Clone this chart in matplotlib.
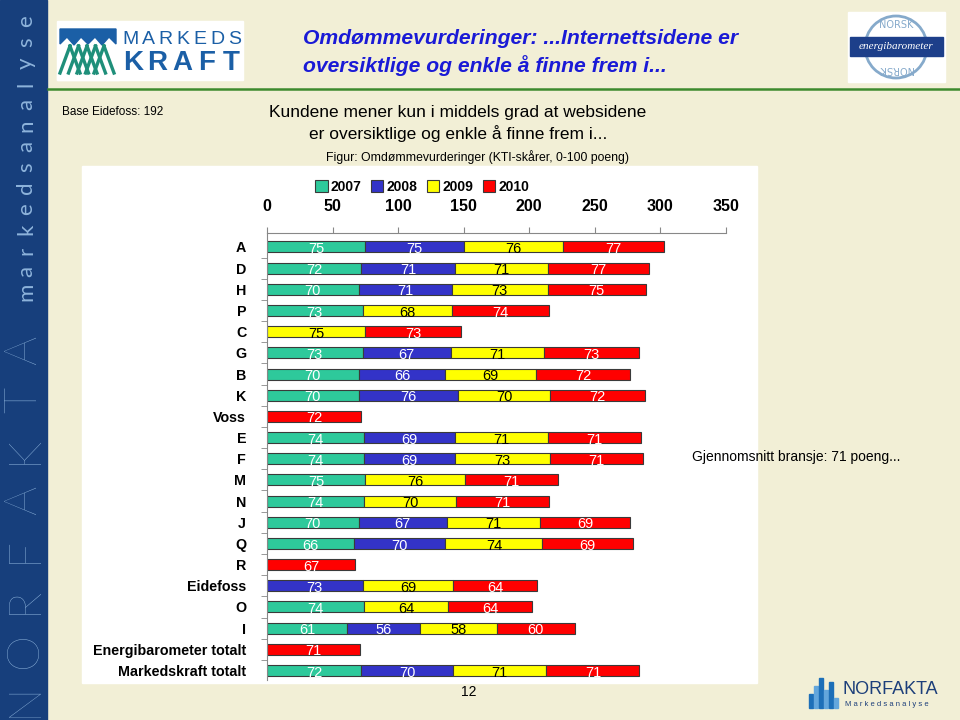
import numpy as np
import matplotlib.pyplot as plt
from matplotlib.patches import Rectangle, Polygon, Circle

nan = np.nan

# categories, top to bottom
cats = ['A', 'D', 'H', 'P', 'C', 'G', 'B', 'K', 'Voss', 'E', 'F', 'M', 'N', 'J',
        'Q', 'R', 'Eidefoss', 'O', 'I', 'Energibarometer totalt', 'Markedskraft totalt']
years = ['2007', '2008', '2009', '2010']
y2007 = [75, 72, 70, 73, nan, 73, 70, 70, nan, 74, 74, 75, 74, 70, 66, nan, nan, 74, 61, nan, 72]
y2008 = [75, 71, 71, nan, nan, 67, 66, 76, nan, 69, 69, nan, nan, 67, 70, nan, 73, nan, 56, nan, 70]
y2009 = [76, 71, 73, 68, 75, 71, 69, 70, nan, 71, 73, 76, 70, 71, 74, nan, 69, 64, 58, nan, 71]
y2010 = [77, 77, 75, 74, 73, 73, 72, 72, 72, 71, 71, 71, 71, 69, 69, 67, 64, 64, 60, 71, 71]
xticks = [0, 50, 100, 150, 200, 250, 300, 350]

colors = ['#2ec99b', '#3333c8', '#ffff00', '#ff0000']
txtcol = ['white', 'white', 'black', 'white']

SANS = 'Liberation Sans'
BG = '#f2efd6'

fig = plt.figure(figsize=(9.6, 7.2), dpi=100)
fig.patch.set_facecolor(BG)

# background layer in pixel coordinates
bg = fig.add_axes([0, 0, 1, 1], zorder=0)
bg.set_xlim(0, 960)
bg.set_ylim(720, 0)
bg.axis('off')

# left blue band
bg.add_patch(Rectangle((0, 0), 47, 720, color='#173f7c'))
for i, ch in enumerate('NORFAKTA'):
    bg.text(24, 700 - i * 50, ch, rotation=90, ha='center', va='center',
            color='#8db3db', fontsize=33, family=['Lato', 'DejaVu Sans'], fontweight='light')
for i, ch in enumerate('markedsanalyse'):
    bg.text(26, 292 - i * 20.8, ch, rotation=90, ha='center', va='center',
            color='#8db3db', fontsize=16, family=['Lato', 'DejaVu Sans'])

# green separator line
bg.plot([48, 960], [89, 89], color='#3d8a2e', lw=1.8)

# Markedskraft logo
bg.add_patch(Rectangle((57, 21), 186, 59, color='white'))
for k in range(5):
    x0 = 60 + k * 8.5
    bg.plot([x0, x0 + 10], [73, 46], color='#1f8f7a', lw=2.4)
    bg.plot([x0 + 10, x0 + 20], [46, 73], color='#1f8f7a', lw=2.4)
bg.add_patch(Polygon([(60, 29), (116, 29), (116, 44), (109, 37), (102, 45), (95, 37),
                      (88, 44), (81, 37), (74, 45), (67, 37), (60, 44)], color='#1b5fa6'))
bg.add_patch(Rectangle((57, 74), 62, 6, color='white'))
for i, ch in enumerate('MARKEDS'):
    bg.text(131 + i * 17.2, 39, ch, ha='center', va='center', color='#1b5fa6',
            fontsize=14, family=SANS)
for i, ch in enumerate('KRAFT'):
    bg.text(133 + i * 24.5, 63, ch, ha='center', va='center', color='#1b5fa6',
            fontsize=20, fontweight='bold', family=SANS)

# Energibarometer logo
bg.add_patch(Rectangle((848, 12), 97, 70, color='white'))
bg.add_patch(Circle((896, 47), 31, fill=False, ec='#86aacb', lw=2))
bg.add_patch(Rectangle((850, 37), 93, 19, color='#1d3f8a'))
bg.text(896, 46.5, 'energibarometer', ha='center', va='center', color='white',
        fontsize=8, style='italic', family='Liberation Serif')
bg.text(896, 25, 'NORSK', ha='center', va='center', color='#86aacb', fontsize=7)
bg.text(896, 69, 'NORSK', ha='center', va='center', color='#86aacb', fontsize=7, rotation=180)

# titles
bg.text(303, 38, 'Omdømmevurderinger: ...Internettsidene er', ha='left', va='center',
        color='#1a1ad6', fontsize=15.2, fontweight='bold', style='italic', family=SANS)
bg.text(303, 66, 'oversiktlige og enkle å finne frem i...', ha='left', va='center',
        color='#1a1ad6', fontsize=15.2, fontweight='bold', style='italic', family=SANS)
bg.text(62, 112, 'Base Eidefoss: 192', ha='left', va='center', fontsize=8.5, family=SANS)
bg.text(458, 112, 'Kundene mener kun i middels grad at websidene', ha='center', va='center',
        fontsize=12.5, family=SANS)
bg.text(458, 134, 'er oversiktlige og enkle å finne frem i...', ha='center', va='center',
        fontsize=12.5, family=SANS)
bg.text(477, 157, 'Figur: Omdømmevurderinger (KTI-skårer, 0-100 poeng)', ha='center', va='center',
        fontsize=8.8, family=SANS)

# white chart panel
bg.add_patch(Rectangle((82, 166), 675, 517, color='white'))

bg.text(692, 457, 'Gjennomsnitt bransje: 71 poeng...', ha='left', va='center',
        fontsize=10, family=SANS)
bg.text(469, 692, '12', ha='center', va='center', fontsize=10, family=SANS)

# NORFAKTA logo bottom right
hts = [14, 22, 30, 18, 26, 10]
for i, h in enumerate(hts):
    bg.add_patch(Rectangle((809 + i * 5, 708 - h), 4, h,
                           color='#1d6fb8' if i % 2 == 0 else '#63a6dc'))
bg.text(843, 689, 'NORFAKTA', ha='left', va='center', fontsize=13,
        color='#1d3f7a', family=SANS)
bg.text(845, 704, 'M a r k e d s a n a l y s e', ha='left', va='center', fontsize=5.5,
        color='#1d3f7a', family=SANS)

# chart
ax = fig.add_axes([267 / 960, 1 - 680 / 720, (726 - 267) / 960, (680 - 233) / 720], zorder=1)
ax.patch.set_alpha(0)
ypos = np.arange(len(cats))
left = np.zeros(len(cats))
series = [y2007, y2008, y2009, y2010]
handles = []
for vals, c, tc, lab in zip(series, colors, txtcol, years):
    v = np.array(vals, dtype=float)
    ok = ~np.isnan(v)
    h = ax.barh(ypos[ok], v[ok], left=left[ok], height=0.52, color=c,
                edgecolor='#3a3a3a', linewidth=0.8, label=lab)
    handles.append(h)
    for yy, ll, vv in zip(ypos[ok], left[ok], v[ok]):
        ax.text(ll + vv / 2, yy + 0.1, f'{vv:.0f}', ha='center', va='center',
                color=tc, fontsize=10.5, family=SANS)
    left[ok] += v[ok]

ax.set_xlim(0, 350)
ax.set_ylim(20.45, -0.66)
ax.xaxis.tick_top()
ax.set_xticks(xticks)
ax.set_xticklabels([str(t) for t in xticks], fontweight='bold', fontsize=11.5, family=SANS)
ax.tick_params(axis='x', direction='out', length=4, color='#888888', pad=10)
ax.set_yticks(ypos)
ax.set_yticklabels(cats, fontweight='bold', fontsize=10.3, family=SANS)
ax.set_yticks(ypos[:-1] + 0.5, minor=True)
ax.tick_params(axis='y', which='major', length=0, pad=15)
ax.tick_params(axis='y', which='minor', direction='out', length=4, color='#888888')
for s in ['right', 'bottom']:
    ax.spines[s].set_visible(False)
for s in ['top', 'left']:
    ax.spines[s].set_color('#888888')

leg = fig.legend(handles=handles, loc='center', bbox_to_anchor=(422 / 960, 1 - 187 / 720),
                 ncol=4, frameon=False, handlelength=0.9, handleheight=0.9,
                 handletextpad=0.2, columnspacing=0.7,
                 prop={'family': SANS, 'weight': 'bold', 'size': 10})

fig.savefig('out.png', dpi=100, facecolor=BG)
